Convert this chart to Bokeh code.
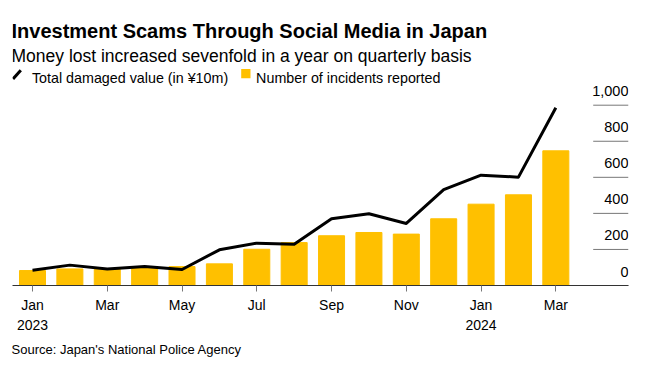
from bokeh.plotting import figure
from bokeh.models import ColumnDataSource, FixedTicker, Label, Arrow, BoxAnnotation, Range1d, Title
from bokeh.core.properties import value
from bokeh.embed import file_html
from bokeh.resources import INLINE

months = ["Jan 2023", "Feb 2023", "Mar 2023", "Apr 2023", "May 2023", "Jun 2023",
          "Jul 2023", "Aug 2023", "Sep 2023", "Oct 2023", "Nov 2023", "Dec 2023",
          "Jan 2024", "Feb 2024", "Mar 2024"]
incidents = [83, 92, 89, 98, 105, 120, 201, 238, 276, 294, 285, 370, 451, 503, 747]
damage = [85, 113, 92, 105, 89, 198, 235, 229, 370, 398, 344, 532, 612, 601, 986]
tick_idx = [0, 2, 4, 6, 8, 10, 12, 14]
tick_labels = ["Jan\n2023", "Mar", "May", "Jul", "Sep", "Nov", "Jan\n2024", "Mar"]
y_ticks = [0, 200, 400, 600, 800, 1000]
y_tick_labels = ["0", "200", "400", "600", "800", "1,000"]

FONT = "Liberation Sans"
BAR = "#FFC000"
INK = "#000000"

idx = list(range(len(months)))
src = ColumnDataSource(dict(x=idx, inc=incidents, dmg=damage))

x_start, x_end = -0.535, 15.944
p = figure(width=646, height=370, output_backend="svg", toolbar_location=None,
           x_range=Range1d(x_start, x_end), y_range=Range1d(0, 1580.7),
           y_axis_location=None, min_border_left=12, min_border_right=18,
           min_border_top=0, min_border_bottom=85)
p.outline_line_color = None
p.grid.visible = False
p.border_fill_color = "white"

p.vbar(x="x", top="inc", width=0.696, source=src, color=BAR)
p.line(x="x", y="dmg", source=src, line_color="black", line_width=3, line_join="round")

# right-hand value labels with short gridline segments
ysrc = ColumnDataSource(dict(y=y_ticks, lab=y_tick_labels,
                             x0=[15.0] * len(y_ticks), x1=[x_end] * len(y_ticks)))
p.segment(x0="x0", x1="x1", y0="y", y1="y", source=ysrc, line_color="#777777", line_width=1)
p.text(x="x1", y="y", text="lab", source=ysrc, text_align="right", text_baseline="alphabetic",
       y_offset=-14, text_font=value(FONT), text_font_size="14.5px", text_color=INK)

ax = p.xaxis[0]
ax.ticker = FixedTicker(ticks=tick_idx)
ax.major_label_overrides = {i: l for i, l in zip(tick_idx, tick_labels)}
ax.axis_line_color = "#333333"
ax.major_tick_line_color = "#777777"
ax.major_tick_out = 6
ax.major_tick_in = 0
ax.minor_tick_line_color = None
ax.major_label_text_font = FONT
ax.major_label_text_font_size = "14px"
ax.major_label_text_color = INK
ax.major_label_text_line_height = 1.26
ax.major_label_standoff = 5

# title, subtitle, legend (screen units relative to frame: x from left, y up from bottom)
def lab(txt, x, y, size, bold=False):
    p.add_layout(Label(x=x, y=y, x_units="screen", y_units="screen", text=txt,
                       text_font=FONT, text_font_size=size, text_color=INK,
                       text_font_style="bold" if bold else "normal",
                       text_baseline="alphabetic"))

lab("Investment Scams Through Social Media in Japan", -1, 255, "20px", bold=True)
lab("Money lost increased sevenfold in a year on quarterly basis", -1, 230, "17.5px")
p.add_layout(Arrow(x_start=0.5, y_start=206.5, x_end=8.3, y_end=215.2, start_units="screen",
                   end_units="screen", end=None, line_width=3, line_color="black"))
lab("Total damaged value (in ¥10m)", 19.4, 207.3, "14.3px")
p.add_layout(BoxAnnotation(left=228.7, right=238, bottom=207.3, top=216.6, left_units="screen",
                           right_units="screen", bottom_units="screen", top_units="screen",
                           fill_color=BAR, fill_alpha=1, line_color=None))
lab("Number of incidents reported", 243.6, 207.3, "14.3px")

p.add_layout(Title(text="Source: Japan's National Police Agency", align="left",
                   text_font=FONT, text_font_size="13px", text_font_style="normal",
                   text_color=INK, offset=-1, standoff=8), "below")

open("out.html", "w").write(file_html(p, INLINE))
